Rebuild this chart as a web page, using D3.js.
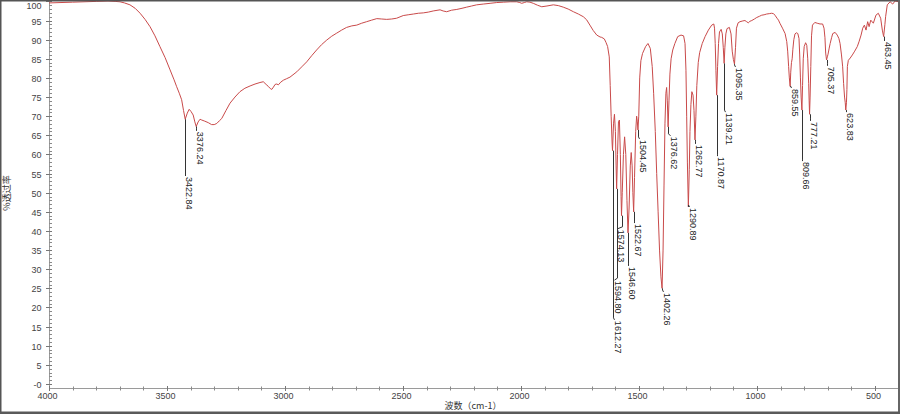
<!DOCTYPE html>
<html><head><meta charset="utf-8">
<script src="https://cdn.jsdelivr.net/npm/d3@7/dist/d3.min.js"></script>
<style>
html,body{margin:0;padding:0;background:#fff;}
svg{display:block;}
text{font-family:"Liberation Sans",Arial,sans-serif;}
</style></head>
<body>
<svg id="chart" width="900" height="414"></svg>
<script>
// ---- data ----
const wavenumbers = [4000,3900,3800,3750,3720,3699,3680,3657,3635,3614,3593,3572,3551,3530,3508,3487,3470,3459,3448,3438,3430,3422.84,3414,3406,3398,3389,3382,3376.24,3368,3360,3353,3340,3325,3311,3300,3289,3278,3268,3250,3233,3212,3191,3170,3148,3127,3106,3092,3080,3071,3062,3056,3049,3042,3035,3028,3018,3007,2993,2979,2950,2929,2908,2887,2866,2845,2823,2802,2781,2760,2739,2717,2696,2675,2654,2633,2611,2590,2569,2548,2527,2499,2478,2456,2435,2414,2393,2372,2343,2330,2315,2294,2272,2250,2230,2209,2188,2160,2131,2103,2075,2046,2018,2005,1997,1986,1976,1962,1948,1930,1912,1890,1863,1842,1821,1800,1778,1757,1736,1722,1708,1694,1679,1665,1658,1647,1640,1633,1626,1622,1618,1614,1612.27,1608,1604,1600,1597,1594.80,1591,1587,1583,1579,1576,1574.13,1571,1566,1561,1556,1551,1546.60,1542,1537,1533,1529,1526,1522.67,1519,1514,1510,1507,1504.45,1501,1497,1492,1485,1472,1462,1452,1444,1438,1431,1425,1419,1413,1407,1402.26,1398,1394,1390,1386,1383,1380,1376.62,1373,1369,1364,1357,1348,1336,1322,1311,1305,1301,1298,1295,1290.89,1287,1284,1280,1276,1271,1267,1262.77,1259,1255,1249,1243,1232,1220,1206,1192,1183,1180,1177,1174,1170.87,1167,1163,1159,1152,1147,1143,1139.21,1136,1132,1127,1117,1110,1105,1100,1095.35,1091,1087,1080,1072,1060,1051,1044,1037,1030,1022,1011,1001,990,980,970,959,948,938,930,924,915,909,903,892,881,874,870,866,863,859.55,857,854,851,848,844,839,833,827,822,819,816,813,809.66,807,804,800,794,789,785,781,779,777.21,775,772,769,765,755,745,733,722,716,712,709,707,705.37,702,699,694,690,684,679,669,660,653,648,642,637,633,629,626,623.83,621,619,617,613,605,596,586,575,567,559,552,545,538,531,525,518,507,496,486,476,469,463.45,458,455,448,436,425,415,400];
const transmittance = [99.6,99.8,100.0,100.1,100.0,99.9,99.6,99.1,98.2,96.9,95.3,93.4,91.0,88.2,85.3,82.1,79.5,77.7,76.0,74.3,71.5,69.2,70.8,71.8,71.2,70.3,68.5,67.3,68.5,69.2,69.0,68.7,68.3,67.8,67.8,68.1,68.8,69.4,71.5,73.4,75.0,76.4,77.3,77.9,78.4,78.8,79.0,78.3,77.8,77.2,77.0,77.6,78.3,78.4,78.2,78.9,79.4,79.8,80.2,81.6,82.9,84.2,85.8,87.3,88.7,89.9,90.9,91.7,92.5,93.2,93.6,93.8,94.3,94.7,95.1,95.5,95.4,95.3,95.4,95.6,96.3,96.5,96.7,96.9,97.0,97.2,97.5,97.8,97.5,97.3,97.7,97.9,98.2,98.5,98.8,99.1,99.3,99.5,99.7,99.8,99.9,99.9,99.7,99.5,99.7,99.9,99.8,99.5,99.0,98.6,98.8,99.1,98.9,98.5,98.0,97.3,96.7,96.0,95.2,93.8,92.4,91.2,90.7,90.6,90.2,89.3,88.2,85.5,78.0,70.0,63.0,61.0,68.0,70.5,66.0,57.0,51.0,60.0,68.5,69.0,60.0,49.0,44.0,50.0,60.0,64.6,60.0,48.0,39.5,46.0,57.0,60.5,57.0,50.0,45.0,54.0,66.0,70.0,68.5,66.4,70.0,80.0,84.5,86.4,88.2,89.0,87.7,83.0,76.0,66.0,55.0,45.0,35.0,28.0,25.0,35.0,52.0,68.0,76.0,77.5,74.0,67.2,74.0,81.0,85.0,87.3,89.0,90.8,91.2,91.0,89.0,82.0,70.0,58.0,46.3,56.0,66.0,73.0,76.4,75.5,71.5,63.8,70.0,78.0,84.0,86.6,89.0,90.8,92.5,93.8,94.1,93.0,89.0,82.0,75.5,83.0,89.0,92.0,92.7,91.5,88.0,83.8,88.0,91.5,92.9,93.2,91.5,87.0,84.8,83.6,88.0,93.0,94.4,94.7,94.9,95.0,94.7,94.4,94.8,95.0,95.4,95.8,96.1,96.4,96.5,96.7,96.8,96.9,96.8,96.4,95.6,95.1,94.3,93.0,91.6,89.5,87.0,83.0,80.0,77.8,81.5,84.0,85.0,87.5,90.0,91.5,91.8,91.6,90.3,86.0,80.0,75.0,71.6,78.0,85.0,88.2,89.2,88.5,85.0,78.6,74.0,70.5,75.0,83.0,91.0,93.8,94.5,94.3,94.1,94.1,93.0,90.5,86.5,85.5,84.7,85.5,86.2,87.8,89.0,90.5,91.6,91.9,91.2,90.3,89.0,86.0,82.9,78.5,75.0,73.5,71.6,73.5,77.0,83.0,84.6,85.2,86.0,87.0,88.2,89.6,91.2,93.0,93.8,92.5,94.7,93.4,95.1,94.3,96.4,96.9,95.6,92.5,90.8,94.0,96.0,99.1,99.9,99.3,100.1,99.9];

// peak annotations
const peakWaves  = [3422.84,3376.24,1612.27,1594.80,1574.13,1546.60,1522.67,1504.45,1402.26,1376.62,1290.89,1262.77,1170.87,1139.21,1095.35,859.55,809.66,777.21,705.37,623.83,463.45];
const peakLabels = ["3422.84","3376.24","1612.27","1594.80","1574.13","1546.60","1522.67","1504.45","1402.26","1376.62","1290.89","1262.77","1170.87","1139.21","1095.35","859.55","809.66","777.21","705.37","623.83","463.45"];
// where the label text hangs (wavenumber, %T of text top)
const labelWaves = [3422.84,3376.24,1608,1608,1593,1546.60,1522.67,1500,1400,1370,1290,1261,1170,1137,1093,858,809,776,704,622,462];
const labelTops  = [54.1,65.9,16.5,26.9,40.3,30.6,41.8,63.8,23.8,64.6,46.0,62.5,59.3,70.8,82.6,77.1,58.0,68.5,82.9,70.8,89.4];

const xTickValues = [4000,3500,3000,2500,2000,1500,1000,500];
const xTickLabels = ["4000","3500","3000","2500","2000","1500","1000","500"];
const yTickValues = [0,5,10,15,20,25,30,35,40,45,50,55,60,65,70,75,80,85,90,95,100];
const yTickLabels = ["-0","5","10","15","20","25","30","35","40","45","50","55","60","65","70","75","80","85","90","95","100"];
const xTitle = "波数（cm-1）";
const yTitle = "%透过率";

// ---- drawing ----
const svg = d3.select("#chart");
const X0 = 49, X1 = 898.6, AXY = 388;
const x = d3.scaleLinear().domain([4000, 400]).range([X0, X1]);
const y = d3.scaleLinear().domain([0, 100]).range([384, 1.4]);

// frame
svg.append("rect").attr("x",0).attr("y",0).attr("width",900).attr("height",414).attr("fill","#fff");

// y axis
const gy = svg.append("g");
gy.append("line").attr("x1",X0+0.5).attr("x2",X0+0.5).attr("y1",0).attr("y2",AXY).attr("stroke","#9a9a9a");
d3.range(-1, 101, 1).forEach(v => {
  const yy = Math.round(y(v)) + 0.5;
  if (yy > AXY) return;
  gy.append("line").attr("x1",X0).attr("x2",X0+3).attr("y1",yy).attr("y2",yy).attr("stroke","#8a8a8a");
});
yTickValues.forEach((v,i) => {
  const yy = Math.round(y(v)) + 0.5;
  gy.append("line").attr("x1",X0-3).attr("x2",X0+3).attr("y1",yy).attr("y2",yy).attr("stroke","#777");
  gy.append("text").attr("x",41.5).attr("y",Math.max(yy,6)).attr("dy","0.35em")
    .attr("text-anchor","end").attr("font-size",9).attr("fill","#444").text(yTickLabels[i]);
});

// x axis
const gx = svg.append("g");
gx.append("line").attr("x1",X0).attr("x2",X1).attr("y1",AXY+0.5).attr("y2",AXY+0.5).attr("stroke","#9a9a9a");
d3.range(4000, 399, -100).forEach(v => {
  const xx = Math.round(x(v)) + 0.5;
  gx.append("line").attr("x1",xx).attr("x2",xx).attr("y1",AXY-1.5).attr("y2",AXY+2.5).attr("stroke","#8a8a8a");
});
xTickValues.forEach((v,i) => {
  const xx = Math.round(x(v)) + 0.5;
  gx.append("line").attr("x1",xx).attr("x2",xx).attr("y1",AXY-2).attr("y2",AXY+3).attr("stroke","#777");
  gx.append("text").attr("x",xx-2).attr("y",398.5)
    .attr("text-anchor","middle").attr("font-size",9).attr("fill","#444").text(xTickLabels[i]);
});

// titles
svg.append("text").attr("x",473).attr("y",409).attr("text-anchor","middle")
  .attr("font-size",9).attr("fill","#333").style("font-family","'Noto Sans CJK SC',sans-serif").text(xTitle);
svg.append("text").attr("transform","translate(10,193) rotate(-90)").attr("text-anchor","middle")
  .attr("font-size",9).attr("fill","#333").style("font-family","'Noto Sans CJK SC',sans-serif").text(yTitle);

// spectrum
const pts = wavenumbers.map((w,i) => [w, transmittance[i]]);
svg.append("defs").append("clipPath").attr("id","clip").append("rect")
  .attr("x",X0).attr("y",0).attr("width",X1-X0+1).attr("height",AXY);
svg.append("path").datum(pts).attr("clip-path","url(#clip)")
  .attr("fill","none").attr("stroke","#c94a4a").attr("stroke-width",1)
  .attr("d", d3.line().x(d => x(d[0])).y(d => y(d[1])));

// peak annotations
const ga = svg.append("g");
peakWaves.forEach((w,i) => {
  const idx = wavenumbers.indexOf(w);
  const pT = transmittance[idx];
  const px = Math.round(x(w)) + 0.5;
  const lx = Math.round(x(labelWaves[i])) + 0.5;
  const top = y(labelTops[i]);
  ga.append("polyline").attr("fill","none").attr("stroke","#333").attr("stroke-width",1)
    .attr("points", `${px},${y(pT)} ${px},${top-3} ${lx},${top-1}`);
  ga.append("text").attr("transform",`translate(${lx},${top}) rotate(90)`)
    .attr("font-size",9).attr("fill","#222").text(peakLabels[i]);
});

// window border
svg.append("line").attr("x1",0).attr("x2",900).attr("y1",0.75).attr("y2",0.75).attr("stroke","#555").attr("stroke-width",1.5);
svg.append("line").attr("x1",0.75).attr("x2",0.75).attr("y1",0).attr("y2",414).attr("stroke","#555").attr("stroke-width",1.5);
svg.append("line").attr("x1",899).attr("x2",899).attr("y1",0).attr("y2",414).attr("stroke","#666").attr("stroke-width",2);
svg.append("rect").attr("x",0).attr("y",411.5).attr("width",900).attr("height",2.5).attr("fill","#5a5a5a");
</script>
</body></html>
